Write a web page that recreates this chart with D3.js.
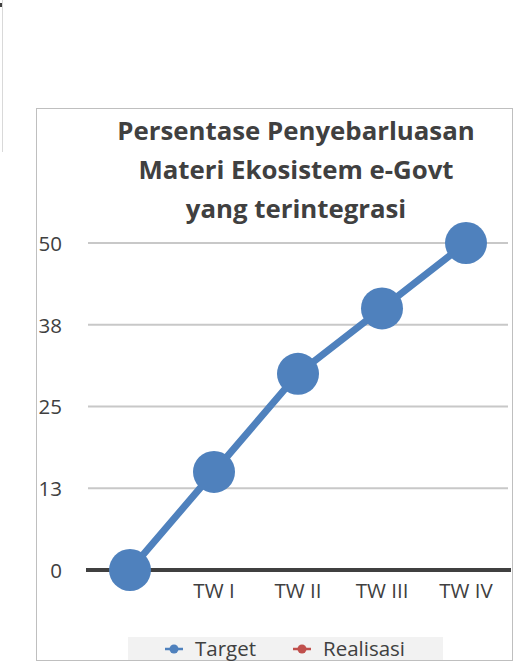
<!DOCTYPE html>
<html>
<head>
<meta charset="utf-8">
<script src="https://cdn.jsdelivr.net/npm/d3@7"></script>
<style>
  body { margin: 0; background: #fff; }
  svg { display: block; font-family: "Open Sans", sans-serif; }
</style>
</head>
<body>
<div id="chart"></div>
<script>
// Data
const categories = ["", "TW I", "TW II", "TW III", "TW IV"];
const targetValues = [0, 15, 30, 40, 50];
const realisasiValues = [];
const yTicks = [0, 12.5, 25, 37.5, 50];
const seriesNames = ["Target", "Realisasi"];
const titleLines = ["Persentase Penyebarluasan", "Materi Ekosistem e-Govt", "yang terintegrasi"];

const width = 526;
const height = 671;
const colors = { Target: "#4f81bd", Realisasi: "#c0504d" };
const textColor = "#404040";
const font = "'Open Sans', sans-serif";

const svg = d3.select("#chart").append("svg")
  .attr("width", width)
  .attr("height", height);

// Stray frame edge at top-left
svg.append("line")
  .attr("x1", 2.5).attr("x2", 2.5)
  .attr("y1", 0).attr("y2", 152)
  .attr("stroke", "#d9d9d9");
svg.append("rect")
  .attr("x", 0).attr("y", 3)
  .attr("width", 2).attr("height", 4)
  .attr("fill", "#404040");

// Chart frame
svg.append("rect")
  .attr("x", 36.5).attr("y", 108.5)
  .attr("width", 476).attr("height", 552)
  .attr("fill", "#fff")
  .attr("stroke", "#bfbfbf");

// Title
svg.append("g")
  .selectAll("text")
  .data(titleLines)
  .enter()
  .append("text")
    .attr("x", 296)
    .attr("y", (d, i) => 140 + i * 39)
    .attr("text-anchor", "middle")
    .attr("font-size", 25.8)
    .attr("font-weight", "bold")
    .attr("fill", textColor)
    .text(d => d);

// Scales
const x = d3.scaleBand()
  .domain(categories.map((c, i) => i))
  .range([88, 508]);

const y = d3.scaleLinear()
  .domain([0, 50])
  .range([570, 243]);

// Gridlines
svg.append("g")
  .selectAll("line")
  .data(yTicks.filter(t => t > 0))
  .enter()
  .append("line")
    .attr("x1", 88).attr("x2", 508)
    .attr("y1", d => y(d)).attr("y2", d => y(d))
    .attr("stroke", "#c8c8c8")
    .attr("stroke-width", 2);

// Y axis labels
const yAxis = d3.axisLeft(y)
  .tickValues(yTicks)
  .tickFormat(d => Math.round(d + 0.001))
  .tickSize(0)
  .tickPadding(0);

const yg = svg.append("g")
  .attr("transform", "translate(62,0)")
  .call(yAxis);
yg.select(".domain").remove();
yg.selectAll("text")
  .attr("font-family", font)
  .attr("font-size", 20.5)
  .attr("fill", textColor)
  .attr("dy", "0.36em");

// X axis
const xAxis = d3.axisBottom(x)
  .tickFormat(i => categories[i])
  .tickSize(0)
  .tickPadding(0);

const xg = svg.append("g")
  .attr("transform", "translate(0,570)")
  .call(xAxis);
xg.select(".domain").remove();
xg.selectAll("text")
  .attr("font-family", font)
  .attr("font-size", 20.5)
  .attr("fill", textColor)
  .attr("dy", 0)
  .attr("y", 28);

svg.append("line")
  .attr("x1", 86).attr("x2", 511)
  .attr("y1", y(0)).attr("y2", y(0))
  .attr("stroke", "#404040")
  .attr("stroke-width", 4);

// Target line
const line = d3.line()
  .x((d, i) => x(i) + x.bandwidth() / 2)
  .y(d => y(d));

svg.append("path")
  .datum(targetValues)
  .attr("fill", "none")
  .attr("stroke", colors.Target)
  .attr("stroke-width", 7)
  .attr("d", line);

svg.selectAll("circle.target")
  .data(targetValues)
  .enter()
  .append("circle")
    .attr("class", "target")
    .attr("cx", (d, i) => x(i) + x.bandwidth() / 2)
    .attr("cy", d => y(d))
    .attr("r", 21)
    .attr("fill", colors.Target);

// Legend
const legend = svg.append("g");
legend.append("rect")
  .attr("x", 128).attr("y", 637)
  .attr("width", 315).attr("height", 23)
  .attr("fill", "#f2f2f2");

const legendX = [165, 293];
seriesNames.forEach((name, i) => {
  const lx = legendX[i];
  legend.append("line")
    .attr("x1", lx).attr("x2", lx + 18)
    .attr("y1", 649).attr("y2", 649)
    .attr("stroke", colors[name])
    .attr("stroke-width", 2.5);
  legend.append("circle")
    .attr("cx", lx + 9).attr("cy", 649)
    .attr("r", 4.5)
    .attr("fill", colors[name]);
  legend.append("text")
    .attr("x", lx + 30)
    .attr("y", 656)
    .attr("font-size", 20.5)
    .attr("fill", textColor)
    .text(name);
});
</script>
</body>
</html>
